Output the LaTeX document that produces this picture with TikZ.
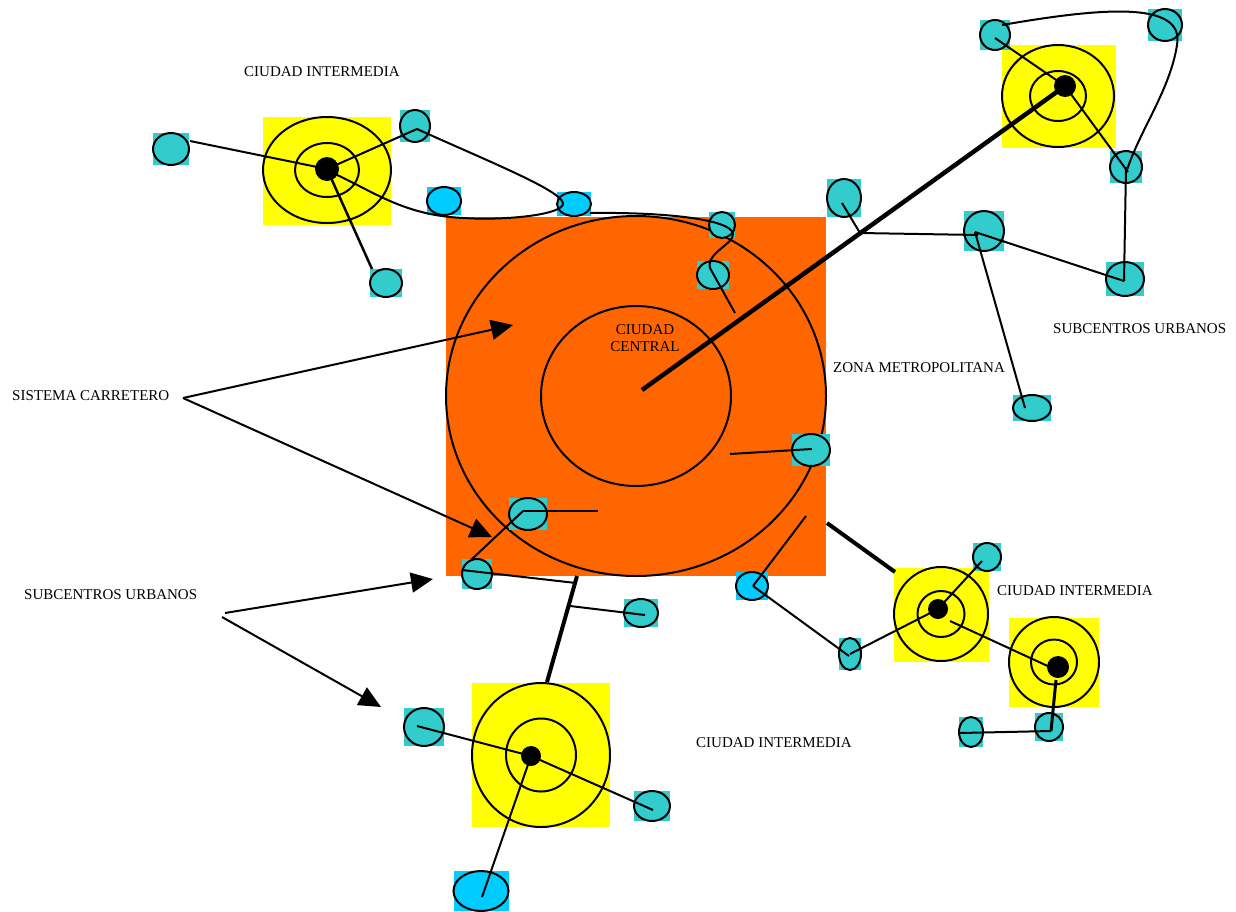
\documentclass[tikz,border=0pt]{standalone}
\usepackage{fontspec}
\setmainfont{Liberation Serif}
\usetikzlibrary{arrows.meta,calc}
\definecolor{orng}{HTML}{FF6600}
\definecolor{ylw}{HTML}{FFFF00}
\definecolor{tealc}{HTML}{33CCCC}
\definecolor{sky}{HTML}{00CCFF}
\newcommand{\subc}[6]{%
  \coordinate (#1) at (#2,#3);
  \fill[#6] ({#2-#4},{#3-#5}) rectangle ({#2+#4},{#3+#5});
  \draw[ell,fill=#6] (#1) ellipse [x radius=#4pt, y radius=#5pt];}
\newcommand{\cityc}[9]{% name, rx1,ry1,rx2,ry2 (rect), cx,cy, outer rx, outer ry
  \fill[ylw] (#2,#3) rectangle (#4,#5);
  \coordinate (#1) at (#6,#7);
  \draw[ell] (#1) ellipse [x radius=#8pt, y radius=#9pt];}
\begin{document}
\begin{tikzpicture}[x=1pt,y=-1pt,
  ell/.style={line width=2pt},
  road/.style={line width=2pt},
  bigroad/.style={line width=4.5pt},
  lbl/.style={font=\fontsize{15}{17}\selectfont, inner sep=0pt, anchor=west},
  arr/.style={line width=2pt,-{Triangle[length=22pt,width=20pt]}}]
\useasboundingbox (0,0) rectangle (1236,911);
\fill[white] (0,0) rectangle (1236,911);

% metropolitan zone
\fill[orng] (446,217) rectangle (826,576);
\coordinate (mc) at (636,396);
\draw[ell] (mc) ellipse [x radius=190pt, y radius=180pt];
\draw[ell] (mc) ellipse [x radius=95pt, y radius=90pt];
\node[font=\fontsize{15}{17}\selectfont, align=center, inner sep=0pt] (cc) at (645,338) {CIUDAD\\CENTRAL};

% intermediate cities
\cityc{A}{263}{117}{391}{225}{327}{170}{64}{53}
\draw[ell] (A) ellipse [x radius=32pt, y radius=27pt];
\fill (327,169) circle [radius=12pt] coordinate (Ad);
\cityc{B}{1002}{45}{1116}{148}{1058}{96}{56}{51}
\draw[ell] (B) ellipse [x radius=28pt, y radius=25pt];
\fill (1065,86) circle [radius=11pt] coordinate (Bd);
\cityc{C}{894}{568}{989}{662}{941}{614}{47}{47}
\draw[ell] (C) ellipse [x radius=23.5pt, y radius=23pt];
\fill (938,609) circle [radius=10pt] coordinate (Cd);
\cityc{D}{1009}{618}{1099}{707}{1054}{662}{45}{45}
\draw[ell] (D) ellipse [x radius=23pt, y radius=22.5pt];
\fill (1058,667) circle [radius=11pt] coordinate (Dd);
\cityc{E}{472}{683}{610}{827}{541}{755}{69}{72}
\draw[ell] (E) ellipse [x radius=35pt, y radius=36.5pt];
\fill (531,756) circle [radius=10pt] coordinate (Ed);

% urban subcentres
\subc{s1}{171}{149}{18}{16}{tealc}
\subc{s2}{415}{126}{15}{16}{tealc}
\subc{s3}{386}{283}{16}{14}{tealc}
\subc{s4}{444}{201}{17}{14}{sky}
\subc{s5}{574}{204}{17}{12}{sky}
\subc{s6}{722}{225}{13}{13}{tealc}
\subc{s7}{713}{275}{16}{14}{tealc}
\subc{s8}{995}{35}{15}{15}{tealc}
\subc{s9}{1165}{25}{17}{16}{tealc}
\subc{s10}{1126}{167}{16}{16}{tealc}
\subc{s11}{1125}{279}{19}{17}{tealc}
\subc{s12}{844}{198}{17}{19}{tealc}
\subc{s13}{984}{231}{20}{20}{tealc}
\subc{s14}{1032}{408}{19}{13}{tealc}
\subc{s15}{811}{450}{19}{16}{tealc}
\subc{s16}{528}{514}{19}{16}{tealc}
\subc{s17}{477}{574}{15}{15}{tealc}
\subc{s18}{641}{613}{17}{14}{tealc}
\subc{s19}{752}{586}{16}{14}{sky}
\subc{s20}{850}{654}{11}{16}{tealc}
\subc{s21}{987}{557}{14}{14}{tealc}
\subc{s22}{1049}{727}{14}{14}{tealc}
\subc{s23}{971}{732}{12}{15}{tealc}
\subc{s24}{424}{727}{20}{19}{tealc}
\subc{s25}{652}{806}{18}{15}{tealc}
\subc{s26}{481}{891}{27.5}{20}{sky}

% connection points
\coordinate (p1) at (190,141);
\coordinate (p2) at (417,129);
\coordinate (p3) at (372,269);
\coordinate (p4) at (335,174);
\coordinate (p5) at (590,213);
\coordinate (p6) at (735,313);
\coordinate (p7) at (995,38);
\coordinate (p8) at (1128,172);
\coordinate (p9) at (1002,25);
\coordinate (p10) at (1127,170);
\coordinate (p11) at (1124,281);
\coordinate (p12) at (975,232);
\coordinate (p13) at (1025,408);
\coordinate (j1) at (860,233);
\coordinate (p14) at (842,203);
\coordinate (p15) at (978,235);
\coordinate (cen) at (642,390);
\coordinate (p16) at (730,454);
\coordinate (p17) at (812,449);
\coordinate (p18) at (523,511);
\coordinate (p19) at (598,511);
\coordinate (p20) at (471,560);
\coordinate (p21) at (462,570);
\coordinate (j2) at (576,583);
\coordinate (j2t) at (577,576);
\coordinate (p22) at (547,682);
\coordinate (j3) at (570,606);
\coordinate (p23) at (645,615);
\coordinate (p24) at (753,586);
\coordinate (p25) at (806,516);
\coordinate (p26) at (849,656);
\coordinate (p27) at (827,523);
\coordinate (p28) at (895,572);
\coordinate (p29) at (982,561);
\coordinate (p30) at (950,621);
\coordinate (p31) at (1052,668);
\coordinate (p32) at (1056,680);
\coordinate (p33) at (1051,731);
\coordinate (p34) at (960,733);
\coordinate (p35) at (417,726);
\coordinate (p36) at (653,810);
\coordinate (p37) at (482,897);

% roads
\draw[road] (p1) -- (Ad);
\draw[road] (Ad) -- (p2);
\draw[line width=2.5pt] (Ad) -- (p3);
\draw[road] (p2) .. controls (490,162) and (560,190) .. (563,203)
  .. controls (565,215) and (500,222) .. (450,217)
  .. controls (400,212) and (370,190) .. (p4);
\draw[road] (p5) .. controls (670,212) and (732,220) .. (733,234)
  .. controls (734,244) and (706,253) .. (710,268) -- (p6);
\draw[road] (p7) -- (Bd);
\draw[road] (Bd) -- (p8);
\draw[road] (p9) .. controls (1100,8) and (1185,0) .. (1177,45)
  .. controls (1170,90) and (1140,130) .. (p10);
\draw[road] (s10) -- (p11);
\draw[road] (p11) -- (p12);
\draw[road] (p12) -- (p13);
\draw[road] (j1) -- (p15);
\draw[road] (p14) -- (j1);
\draw[bigroad] (cen) -- (Bd);
\draw[road] (p16) -- (p17);
\draw[road] (p18) -- (p19);
\draw[road] (p18) -- (p20);
\draw[road] (p21) -- (j2);
\draw[line width=4pt] (j2t) -- (p22);
\draw[road] (j3) -- (p23);
\draw[road] (p24) -- (p25);
\draw[road] (p24) -- (p26);
\draw[road] (s20) -- (Cd);
\draw[line width=4pt] (p27) -- (p28);
\draw[road] (Cd) -- (p29);
\draw[road] (p30) -- (p31);
\draw[line width=3pt] (p32) -- (p33);
\draw[road] (p34) -- (p33);
\draw[road] (p35) -- (Ed);
\draw[road] (Ed) -- (p36);
\draw[road] (Ed) -- (p37);

% labels
\node[lbl] (t1) at (244,72) {CIUDAD INTERMEDIA};
\node[lbl] (t2) at (833,368) {ZONA METROPOLITANA};
\node[lbl] (t3) at (1053,329) {SUBCENTROS URBANOS};
\node[lbl] (t4) at (12,396) {SISTEMA CARRETERO};
\node[lbl] (t5) at (24,595) {SUBCENTROS URBANOS};
\node[lbl] (t6) at (997,591) {CIUDAD INTERMEDIA};
\node[lbl] (t7) at (696,743) {CIUDAD INTERMEDIA};

% arrows
\coordinate (a0) at (183,398);
\coordinate (a1) at (513,325);
\coordinate (a2) at (492,537);
\coordinate (b0) at (225,613);
\coordinate (b0b) at (222,617);
\coordinate (b1) at (433,579);
\coordinate (b2) at (381,707);
\draw[arr] (a0) -- (a1);
\draw[arr] (a0) -- (a2);
\draw[arr] (b0) -- (b1);
\draw[arr] (b0b) -- (b2);
\end{tikzpicture}
\end{document}
